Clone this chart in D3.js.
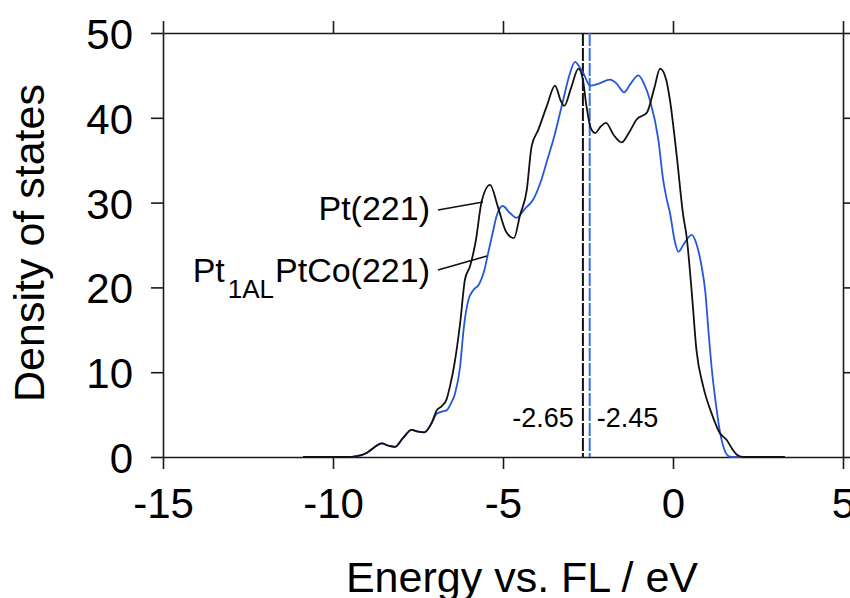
<!DOCTYPE html>
<html><head><meta charset="utf-8">
<script src="https://cdn.jsdelivr.net/npm/d3@7"></script>
<style>
body{margin:0;background:#fff;}
svg{display:block;font-family:"Liberation Sans",Arial,sans-serif;}
</style></head><body>
<svg id="chart" width="850" height="598"></svg>
<script>
// Data: [energy (eV), DOS]
const ptEnergy = [-10.88,-9.6,-9.3,-9.0,-8.8,-8.57,-8.35,-8.18,-7.95,-7.69,-7.5,-7.32,-7.1,-6.95,-6.8,-6.66,-6.55,-6.44,-6.26,-6.12,-5.97,-5.8,-5.63,-5.38,-5.15,-4.9,-4.68,-4.5,-4.3,-4.16,-3.96,-3.71,-3.47,-3.3,-3.2,-3.0,-2.78,-2.65,-2.55,-2.42,-2.29,-2.12,-1.97,-1.75,-1.51,-1.3,-1.07,-0.77,-0.55,-0.38,-0.2,-0.09,0.11,0.3,0.4,0.55,0.69,0.89,1.13,1.38,1.58,1.75,1.87,2.05,3.29];
const ptDos    = [0,0,0.1,0.5,1.1,1.6,1.3,1.2,2.2,3.2,3.0,2.9,4.0,5.5,6.0,6.8,8.5,10.7,15.8,20.9,22.5,25.5,30.1,32.1,29.5,26.5,25.8,28.5,31.5,36.6,38.6,41.4,43.8,42.0,41.4,43.5,45.8,44.5,41.5,38.8,38.2,39.0,39.4,38.0,37.1,38.2,39.8,40.6,43.5,45.8,44.5,42.1,35.5,28.5,26.0,19.5,12.6,8.3,5.2,2.8,2.0,0.9,0.3,0,0];

const ptcoEnergy = [-10.88,-9.6,-9.3,-9.0,-8.8,-8.57,-8.35,-8.18,-7.95,-7.69,-7.5,-7.32,-7.1,-6.95,-6.8,-6.66,-6.52,-6.41,-6.26,-6.16,-6.02,-5.87,-5.7,-5.55,-5.44,-5.3,-5.19,-5.01,-4.8,-4.6,-4.35,-4.12,-3.87,-3.7,-3.52,-3.23,-3.05,-2.88,-2.75,-2.64,-2.44,-2.2,-1.85,-1.65,-1.44,-1.25,-1.02,-0.85,-0.68,-0.43,-0.29,-0.19,-0.09,0.05,0.16,0.3,0.55,0.7,0.84,0.95,1.04,1.15,1.27,1.38,1.5,1.63,1.72,3.29];
const ptcoDos    = [0,0,0.1,0.5,1.1,1.6,1.3,1.2,2.2,3.2,3.0,2.9,4.0,5.1,5.35,5.5,6.4,7.5,10.7,15,18.5,19.7,20.4,22,24,26.5,28.4,29.6,28.8,28.2,29.3,30.3,32.7,35,37.4,42.1,45,46.6,46.0,45.3,43.8,44.0,44.5,44.0,43.0,44.0,45,44,42.1,37.4,32.7,30.5,28.8,25.5,24.2,25.0,26.2,25.0,22.5,19.5,15,10,6,3,1.0,0.1,0,0];

const xTicks = [-15,-10,-5,0,5];
const yTicks = [0,10,20,30,40,50];
const dCenters = [-2.65,-2.45];
const dLabels = ["-2.65","-2.45"];
const seriesNames = ["Pt(221)","Pt","1AL","PtCo(221)"];

const svg = d3.select("#chart");
const L=163, R=843, T=33, B=457;
const x = d3.scaleLinear().domain([-15,5]).range([L,R]);
const y = d3.scaleLinear().domain([0,50]).range([B,T]);
const axisColor="#1a1a1a";

function styleAxis(g){
  g.selectAll("path.domain").attr("stroke",axisColor).attr("stroke-width",1.6);
  g.selectAll(".tick line").attr("stroke",axisColor).attr("stroke-width",1.6);
  g.selectAll(".tick text").attr("fill","#000").style("font-family",'"Liberation Sans",Arial,sans-serif');
}

// bottom
const gb = svg.append("g").attr("transform",`translate(0,${B})`)
  .call(d3.axisBottom(x).tickValues(xTicks).tickSize(12).tickSizeOuter(0).tickPadding(19).tickFormat(d=>String(d)));
styleAxis(gb);
gb.selectAll(".tick text").style("font-size","42px").attr("dy","0.71em");
// top
const gt = svg.append("g").attr("transform",`translate(0,${T})`)
  .call(d3.axisTop(x).tickValues(xTicks).tickSize(12).tickSizeOuter(0).tickFormat(""));
styleAxis(gt);
// left
const gl = svg.append("g").attr("transform",`translate(${L},0)`)
  .call(d3.axisLeft(y).tickValues(yTicks).tickSize(12).tickSizeOuter(0).tickPadding(18));
styleAxis(gl);
gl.selectAll(".tick text").style("font-size","42px").attr("dy","0.37em");
// right
const gr = svg.append("g").attr("transform",`translate(${R},0)`)
  .call(d3.axisRight(y).tickValues(yTicks).tickSize(12).tickSizeOuter(0).tickFormat(""));
styleAxis(gr);

// dashed lines at d-band centers
const dColors = ["#111","#3b6fe6"];
dCenters.forEach((c,i)=>{
  svg.append("line").attr("x1",x(c)).attr("x2",x(c)).attr("y1",T).attr("y2",B)
    .attr("stroke",dColors[i]).attr("stroke-width",2).attr("stroke-dasharray","13,2");
});
svg.append("text").attr("x",x(dCenters[0])-9).attr("y",427).attr("text-anchor","end")
  .style("font-size","27px").text(dLabels[0]);
svg.append("text").attr("x",x(dCenters[1])+7).attr("y",427).attr("text-anchor","start")
  .style("font-size","27px").text(dLabels[1]);

// curves
const line = d3.line().x(d=>x(d[0])).y(d=>y(d[1])).curve(d3.curveMonotoneX);
const pt = ptEnergy.map((e,i)=>[e,ptDos[i]]);
const ptco = ptcoEnergy.map((e,i)=>[e,ptcoDos[i]]);
svg.append("path").datum(ptco).attr("d",line).attr("fill","none").attr("stroke","#2457dc").attr("stroke-width",1.8);
svg.append("path").datum(pt).attr("d",line).attr("fill","none").attr("stroke","#111").attr("stroke-width",1.8);

// annotations
svg.append("text").attr("x",430).attr("y",220).attr("text-anchor","end").style("font-size","34px").text(seriesNames[0]);
const t2 = svg.append("text").attr("x",430).attr("y",282).attr("text-anchor","end").style("font-size","34px");
t2.append("tspan").text(seriesNames[1]);
t2.append("tspan").attr("dy",16).style("font-size","26px").attr("dx",3).text(seriesNames[2]);
t2.append("tspan").attr("dy",-16).attr("dx",1).text(seriesNames[3]);
svg.append("line").attr("x1",438).attr("y1",210).attr("x2",483).attr("y2",202).attr("stroke","#111").attr("stroke-width",1.6);
svg.append("line").attr("x1",438).attr("y1",270).attr("x2",487).attr("y2",256).attr("stroke","#111").attr("stroke-width",1.6);

// axis titles
svg.append("text").attr("x",522).attr("y",592).attr("text-anchor","middle").style("font-size","43px").text("Energy vs. FL / eV");
svg.append("text").attr("transform","translate(44,243) rotate(-90)").attr("text-anchor","middle").style("font-size","43px").text("Density of states");
</script>
</body></html>
